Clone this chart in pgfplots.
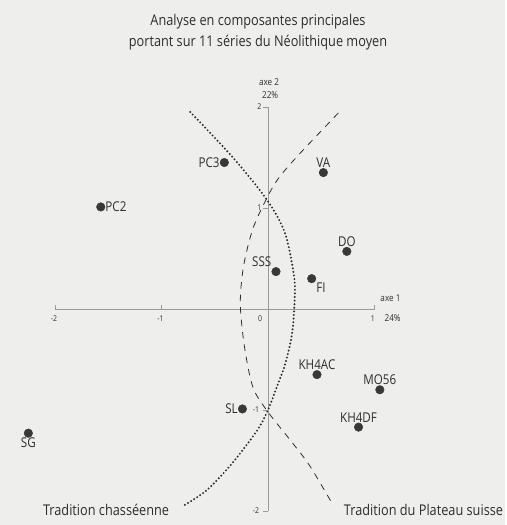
\documentclass[border=0pt]{standalone}
\usepackage{fontspec}
\setmainfont{Open Sans}[FakeStretch=0.86]
\usepackage{pgfplots}
\pgfplotsset{compat=1.18}
\definecolor{paper}{HTML}{EEEEEC}
\definecolor{ink}{HTML}{2E2E2E}
\definecolor{dotc}{HTML}{383838}
\definecolor{axc}{HTML}{9A9A9A}
\newcommand{\lab}{\fontsize{13.5}{15}\selectfont}
\newcommand{\ttl}{\fontsize{14.8}{21}\selectfont}
\newcommand{\trad}{\fontsize{14.8}{16}\selectfont}
\newcommand{\axl}{\fontsize{9.5}{11}\selectfont}
\newcommand{\tkl}{\fontsize{8}{9}\selectfont}
\pgfplotsset{
  scores/.style={only marks, mark=*, mark size=4.3pt,
    mark options={fill=dotc, draw=dotc},
    point meta=explicit symbolic, nodes near coords,
    every node near coord/.append style={font=\lab, text=ink, anchor=#1, inner sep=4.5pt}},
}

\begin{document}
\begin{tikzpicture}
\begin{axis}[
  width=505pt, height=525pt, scale only axis,
  xmin=-2.516, xmax=2.225, ymin=-2.139, ymax=3.059,
  axis line style={draw=none}, ticks=none,
  axis background/.style={fill=paper},
  clip=false,
]
% axes
\draw[axc, line width=0.5pt] (axis cs:-2,0) -- (axis cs:1,0);
\draw[axc, line width=0.5pt] (axis cs:0,-2) -- (axis cs:0,2);
\pgfplotsinvokeforeach{-2,-1,1}{
  \draw[axc, line width=0.5pt] (axis cs:#1,0) -- (axis cs:#1,0.035);}
\pgfplotsinvokeforeach{-2,-1,1,2}{
  \draw[axc, line width=0.5pt] (axis cs:0,#1) -- (axis cs:-0.045,#1);}
\node[ink, font=\tkl, anchor=north] at (axis cs:-2.01,-0.03) {-2};
\node[ink, font=\tkl, anchor=north] at (axis cs:-1.01,-0.03) {-1};
\node[ink, font=\tkl, anchor=north] at (axis cs:-0.075,-0.03) {0};
\node[ink, font=\tkl, anchor=north] at (axis cs:0.985,-0.03) {1};
\node[ink, font=\tkl, anchor=east] at (axis cs:-0.03,2) {2};
\node[ink, font=\tkl, anchor=east] at (axis cs:-0.03,1) {1};
\node[ink, font=\tkl, anchor=east] at (axis cs:-0.05,-1) {-1};
\node[ink, font=\tkl, anchor=east] at (axis cs:-0.05,-2) {-2};
\node[ink, font=\axl] at (axis cs:1.15,0.11) {axe 1};
\node[ink, font=\axl] at (axis cs:1.17,-0.09) {24\%};
\node[ink, font=\axl] at (axis cs:0.01,2.25) {axe 2};
\node[ink, font=\axl] at (axis cs:0.02,2.12) {22\%};

% title
\node[ink, font=\ttl, align=center] at (axis cs:-0.094,2.74)
  {Analyse en composantes principales\\portant sur 11 séries du Néolithique moyen};

% Tradition chasseenne
\addplot[ink, line width=2.2pt, line cap=round, dash pattern=on 0pt off 3.6pt,
  smooth, tension=0.5] coordinates {
(-0.73,1.95) (-0.33,1.50) (-0.01,1.08) (0.16,0.75) (0.245,0.32) (0.25,0.08)
(0.225,-0.25) (0.16,-0.55) (0.08,-0.78) (0,-1.0) (-0.10,-1.2)
(-0.33,-1.52) (-0.57,-1.79) (-0.78,-1.94)};
% Tradition du Plateau suisse
\addplot[ink, line width=0.8pt, dash pattern=on 6.5pt off 6pt, smooth, tension=0.5] coordinates {
(0.66,1.94) (0.30,1.54) (0.11,1.31) (0,1.12) (-0.14,0.80) (-0.23,0.42)
(-0.26,0.05) (-0.22,-0.38) (-0.14,-0.78) (0,-1.02) (0.21,-1.30)
(0.39,-1.55) (0.61,-1.94)};

\node[ink, font=\trad] at (axis cs:-1.52,-1.99) {Tradition chasséenne};
\node[ink, font=\trad] at (axis cs:1.46,-1.99) {Tradition du Plateau suisse};

% scores on the first two components, grouped by label side
\addplot[scores=south] coordinates {(0.52,1.35)[VA] (0.74,0.57)[DO]
  (0.46,-0.65)[KH4AC] (1.05,-0.80)[MO56] (0.85,-1.17)[KH4DF]};
\addplot[scores=east] coordinates {(-0.41,1.45)[PC3] (-0.24,-0.99)[SL]};
\addplot[scores=west] coordinates {(-1.57,1.01)[PC2]};
\addplot[scores=south east] coordinates {(0.075,0.37)[SSS]};
\addplot[scores=north west] coordinates {(0.41,0.30)[FI]};
\addplot[scores=north] coordinates {(-2.25,-1.23)[SG]};
\end{axis}
\end{tikzpicture}
\end{document}
